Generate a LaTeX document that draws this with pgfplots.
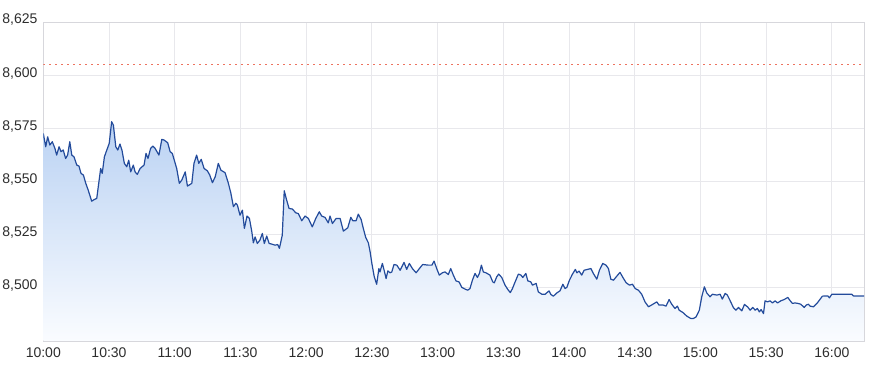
\documentclass[border=0pt]{standalone}
\usepackage{pgfplots}
\pgfplotsset{compat=1.18}
\usepackage{fontspec}
\setmainfont{Liberation Sans}
\definecolor{linecol}{RGB}{35,75,155}
\definecolor{filltop}{RGB}{186,210,243}
\definecolor{fillbot}{RGB}{250,252,255}
\definecolor{gridcol}{RGB}{232,232,236}
\definecolor{framecol}{RGB}{215,215,220}
\definecolor{txtcol}{RGB}{45,45,45}
\definecolor{refcol}{RGB}{232,80,55}
\begin{document}
\fontsize{14pt}{16pt}\selectfont
\begin{tikzpicture}
\useasboundingbox (-43.3pt,-30pt) rectangle (826.7pt,341pt);
\begin{axis}[
  scale only axis,
  width=821.4pt, height=318.7pt,
  xmin=0, xmax=375, ymin=8475, ymax=8625,
  xtick={0,30,60,90,120,150,180,210,240,270,300,330,360},
  xticklabels={10:00,10:30,11:00,11:30,12:00,12:30,13:00,13:30,14:00,14:30,15:00,15:30,16:00},
  ytick={8500,8525,8550,8575,8600,8625},
  yticklabels={{8,500},{8,525},{8,550},{8,575},{8,600},{8,625}},
  major tick length=0pt,
  grid=major,
  major grid style={gridcol, line width=0.8pt},
  axis line style={framecol, line width=0.8pt},
  tick label style={font=\fontsize{14pt}{16pt}\selectfont, text=txtcol, inner sep=0pt},
  yticklabel style={anchor=east, xshift=-5.6pt, yshift=2.3pt},
  xticklabel style={anchor=north, yshift=-7pt},
  clip=true,
  axis on top=false,
]
\addplot[draw=none, top color=filltop, bottom color=fillbot] coordinates {
(0,8572.7) (1.1,8566.4) (2.0,8571.1) (3.0,8567.2) (4.1,8568.8) (5.3,8565.7) (6.1,8562.5) (7.2,8566.4) (8.1,8564.1) (9.1,8564.9)
(10.2,8560.9) (11.1,8562.5) (12.1,8568.8) (13.0,8562.5) (14.0,8561.7) (15.3,8557.8) (16.3,8557.3) (17.2,8553.9) (18.3,8553.1) (19.4,8549.2)
(20.5,8546.0) (22.1,8540.8) (23.3,8541.6) (24.4,8542.1) (25.3,8549.2) (26.2,8556.2) (26.9,8553.9) (27.9,8561.7) (29.0,8564.9) (30.1,8568.0)
(31.2,8578.2) (32.0,8576.6) (33.1,8566.4) (34.0,8564.9) (35.0,8567.7) (35.9,8564.9) (37.0,8558.6) (38.1,8557.0) (39.0,8560.1) (39.9,8554.6)
(41.1,8557.8) (41.9,8554.6) (42.9,8553.4) (44.2,8556.2) (46.0,8557.8) (46.9,8563.3) (47.8,8560.9) (49.0,8565.7) (50.0,8566.7) (51.0,8565.7)
(52.8,8562.5) (54.1,8569.9) (55.1,8569.6) (56.8,8568.3) (57.9,8564.1) (58.9,8563.3) (59.8,8560.1) (60.9,8556.2) (62.1,8549.2) (63.2,8550.7)
(64.8,8554.6) (65.8,8547.9) (67.8,8549.2) (68.8,8558.6) (70.0,8562.5) (71.0,8558.6) (72.1,8560.5) (73.4,8556.2) (74.9,8555.1) (76.0,8553.1)
(77.2,8549.5) (78.5,8552.3) (79.9,8558.6) (81.1,8555.4) (83.0,8554.2) (84.5,8549.2) (85.6,8544.7) (86.8,8538.2) (87.9,8539.8) (88.6,8539.0)
(89.8,8534.2) (90.9,8536.6) (91.8,8528.0) (93.0,8533.8) (94.1,8532.7) (95.2,8526.4) (95.9,8521.2) (96.7,8524.0) (97.7,8520.9) (98.9,8522.5)
(100.0,8525.6) (100.9,8520.9) (102.0,8524.4) (103.1,8520.9) (104.3,8520.6) (105.8,8520.1) (107.0,8520.4) (107.8,8518.6) (109.1,8524.8) (110.0,8545.7)
(111.1,8541.3) (112.2,8537.4) (113.7,8537.1) (115.3,8535.3) (116.4,8535.0) (118.0,8531.6) (119.5,8533.8) (121.0,8532.7) (122.8,8528.7) (124.4,8532.7)
(126.0,8535.8) (127.1,8533.8) (128.6,8533.2) (130.1,8530.6) (130.9,8533.8) (132.0,8530.3) (133.7,8532.7) (135.5,8532.7) (137.0,8526.7) (139.0,8528.3)
(140.4,8533.2) (141.3,8531.6) (142.8,8531.6) (143.8,8534.7) (145.1,8532.2) (146.1,8528.0) (147.2,8523.7) (148.4,8521.2) (149.2,8517.0) (150.0,8511.5)
(151.1,8505.2) (152.2,8501.7) (153.2,8509.1) (153.7,8507.5) (154.8,8511.5) (155.6,8508.3) (156.5,8504.4) (157.3,8508.0) (158.3,8507.1) (159.1,8507.5)
(160.1,8511.0) (161.4,8510.7) (162.9,8508.3) (164.7,8512.0) (165.9,8508.7) (167.1,8511.5) (168.5,8509.1) (170.2,8507.1) (171.7,8509.1) (173.2,8511.0)
(175.8,8510.7) (177.4,8510.7) (178.4,8512.6) (179.6,8509.1) (180.8,8506.0) (182.2,8507.1) (183.4,8507.5) (184.9,8506.3) (186.0,8509.1) (187.2,8506.0)
(188.4,8503.3) (189.8,8502.8) (191.1,8500.2) (192.6,8499.4) (193.8,8498.9) (194.8,8499.7) (195.9,8503.6) (197.1,8506.8) (198.2,8504.9) (199.1,8506.8)
(200.0,8510.7) (200.9,8507.5) (202.1,8507.1) (203.9,8506.0) (205.2,8502.8) (205.9,8502.4) (207.0,8505.2) (207.9,8506.5) (209.3,8504.9) (210.8,8501.3)
(212.1,8499.2) (213.2,8497.8) (214.2,8499.7) (215.4,8502.8) (216.9,8506.5) (218.1,8506.0) (218.9,8504.9) (220.3,8506.8) (221.2,8503.3) (222.6,8502.8)
(223.3,8501.3) (225.0,8502.1) (226.0,8498.1) (227.6,8497.0) (229.1,8497.0) (230.9,8498.6) (231.7,8496.9) (232.9,8496.1) (234.4,8497.6) (235.9,8498.6)
(237.2,8501.7) (238.2,8499.7) (239.0,8500.2) (240.2,8503.6) (241.6,8506.5) (242.9,8508.7) (243.6,8507.1) (244.6,8507.9) (245.8,8506.0) (246.9,8508.3)
(248.9,8508.8) (250.0,8509.1) (251.1,8506.8) (252.7,8504.1) (253.9,8508.3) (255.4,8511.5) (256.9,8510.7) (258.0,8509.1) (259.1,8504.1) (260.3,8503.6)
(261.8,8505.5) (263.3,8507.3) (264.6,8504.9) (266.1,8502.4) (267.6,8501.3) (269.0,8501.7) (270.2,8499.7) (271.7,8498.9) (273.2,8497.0) (274.7,8493.4)
(276.3,8491.1) (278.3,8492.3) (280.1,8493.4) (281.1,8491.9) (283.1,8491.9) (284.3,8491.4) (285.7,8494.5) (286.9,8492.3) (288.4,8490.3) (289.5,8491.4)
(290.3,8489.5) (292.0,8488.4) (293.8,8486.7) (295.6,8485.6) (296.8,8485.6) (298.0,8486.3) (299.5,8489.5) (300.6,8495.8) (301.8,8500.5) (302.9,8497.6)
(304.4,8495.8) (305.5,8497.0) (307.5,8496.6) (309.0,8497.0) (310.0,8494.7) (311.3,8497.4) (312.3,8496.6) (313.6,8493.9) (315.1,8490.6) (316.2,8489.5)
(317.4,8490.8) (318.9,8489.2) (320.1,8492.2) (321.5,8491.1) (322.7,8489.5) (323.9,8490.8) (325.0,8489.5) (326.0,8490.3) (326.9,8488.7) (327.7,8489.8)
(328.8,8487.9) (329.5,8493.9) (330.6,8493.4) (331.8,8493.9) (332.9,8492.9) (334.1,8493.9) (335.2,8492.9) (336.7,8493.9) (338.2,8494.5) (339.9,8495.5)
(341.0,8493.9) (342.0,8492.7) (343.2,8492.9) (344.5,8492.7) (345.8,8492.3) (347.4,8490.8) (348.3,8491.9) (349.3,8492.3) (350.1,8491.4) (351.6,8491.1)
(353.2,8492.7) (354.3,8494.2) (355.7,8496.1) (357.3,8496.2) (358.2,8496.2) (358.9,8495.3) (360.0,8497.0) (362.3,8497.0) (369.1,8497.0) (369.9,8496.2)
(374.7,8496.2)
} \closedcycle;
\addplot[linecol, line width=1.2pt, line join=round] coordinates {
(0,8572.7) (1.1,8566.4) (2.0,8571.1) (3.0,8567.2) (4.1,8568.8) (5.3,8565.7) (6.1,8562.5) (7.2,8566.4) (8.1,8564.1) (9.1,8564.9)
(10.2,8560.9) (11.1,8562.5) (12.1,8568.8) (13.0,8562.5) (14.0,8561.7) (15.3,8557.8) (16.3,8557.3) (17.2,8553.9) (18.3,8553.1) (19.4,8549.2)
(20.5,8546.0) (22.1,8540.8) (23.3,8541.6) (24.4,8542.1) (25.3,8549.2) (26.2,8556.2) (26.9,8553.9) (27.9,8561.7) (29.0,8564.9) (30.1,8568.0)
(31.2,8578.2) (32.0,8576.6) (33.1,8566.4) (34.0,8564.9) (35.0,8567.7) (35.9,8564.9) (37.0,8558.6) (38.1,8557.0) (39.0,8560.1) (39.9,8554.6)
(41.1,8557.8) (41.9,8554.6) (42.9,8553.4) (44.2,8556.2) (46.0,8557.8) (46.9,8563.3) (47.8,8560.9) (49.0,8565.7) (50.0,8566.7) (51.0,8565.7)
(52.8,8562.5) (54.1,8569.9) (55.1,8569.6) (56.8,8568.3) (57.9,8564.1) (58.9,8563.3) (59.8,8560.1) (60.9,8556.2) (62.1,8549.2) (63.2,8550.7)
(64.8,8554.6) (65.8,8547.9) (67.8,8549.2) (68.8,8558.6) (70.0,8562.5) (71.0,8558.6) (72.1,8560.5) (73.4,8556.2) (74.9,8555.1) (76.0,8553.1)
(77.2,8549.5) (78.5,8552.3) (79.9,8558.6) (81.1,8555.4) (83.0,8554.2) (84.5,8549.2) (85.6,8544.7) (86.8,8538.2) (87.9,8539.8) (88.6,8539.0)
(89.8,8534.2) (90.9,8536.6) (91.8,8528.0) (93.0,8533.8) (94.1,8532.7) (95.2,8526.4) (95.9,8521.2) (96.7,8524.0) (97.7,8520.9) (98.9,8522.5)
(100.0,8525.6) (100.9,8520.9) (102.0,8524.4) (103.1,8520.9) (104.3,8520.6) (105.8,8520.1) (107.0,8520.4) (107.8,8518.6) (109.1,8524.8) (110.0,8545.7)
(111.1,8541.3) (112.2,8537.4) (113.7,8537.1) (115.3,8535.3) (116.4,8535.0) (118.0,8531.6) (119.5,8533.8) (121.0,8532.7) (122.8,8528.7) (124.4,8532.7)
(126.0,8535.8) (127.1,8533.8) (128.6,8533.2) (130.1,8530.6) (130.9,8533.8) (132.0,8530.3) (133.7,8532.7) (135.5,8532.7) (137.0,8526.7) (139.0,8528.3)
(140.4,8533.2) (141.3,8531.6) (142.8,8531.6) (143.8,8534.7) (145.1,8532.2) (146.1,8528.0) (147.2,8523.7) (148.4,8521.2) (149.2,8517.0) (150.0,8511.5)
(151.1,8505.2) (152.2,8501.7) (153.2,8509.1) (153.7,8507.5) (154.8,8511.5) (155.6,8508.3) (156.5,8504.4) (157.3,8508.0) (158.3,8507.1) (159.1,8507.5)
(160.1,8511.0) (161.4,8510.7) (162.9,8508.3) (164.7,8512.0) (165.9,8508.7) (167.1,8511.5) (168.5,8509.1) (170.2,8507.1) (171.7,8509.1) (173.2,8511.0)
(175.8,8510.7) (177.4,8510.7) (178.4,8512.6) (179.6,8509.1) (180.8,8506.0) (182.2,8507.1) (183.4,8507.5) (184.9,8506.3) (186.0,8509.1) (187.2,8506.0)
(188.4,8503.3) (189.8,8502.8) (191.1,8500.2) (192.6,8499.4) (193.8,8498.9) (194.8,8499.7) (195.9,8503.6) (197.1,8506.8) (198.2,8504.9) (199.1,8506.8)
(200.0,8510.7) (200.9,8507.5) (202.1,8507.1) (203.9,8506.0) (205.2,8502.8) (205.9,8502.4) (207.0,8505.2) (207.9,8506.5) (209.3,8504.9) (210.8,8501.3)
(212.1,8499.2) (213.2,8497.8) (214.2,8499.7) (215.4,8502.8) (216.9,8506.5) (218.1,8506.0) (218.9,8504.9) (220.3,8506.8) (221.2,8503.3) (222.6,8502.8)
(223.3,8501.3) (225.0,8502.1) (226.0,8498.1) (227.6,8497.0) (229.1,8497.0) (230.9,8498.6) (231.7,8496.9) (232.9,8496.1) (234.4,8497.6) (235.9,8498.6)
(237.2,8501.7) (238.2,8499.7) (239.0,8500.2) (240.2,8503.6) (241.6,8506.5) (242.9,8508.7) (243.6,8507.1) (244.6,8507.9) (245.8,8506.0) (246.9,8508.3)
(248.9,8508.8) (250.0,8509.1) (251.1,8506.8) (252.7,8504.1) (253.9,8508.3) (255.4,8511.5) (256.9,8510.7) (258.0,8509.1) (259.1,8504.1) (260.3,8503.6)
(261.8,8505.5) (263.3,8507.3) (264.6,8504.9) (266.1,8502.4) (267.6,8501.3) (269.0,8501.7) (270.2,8499.7) (271.7,8498.9) (273.2,8497.0) (274.7,8493.4)
(276.3,8491.1) (278.3,8492.3) (280.1,8493.4) (281.1,8491.9) (283.1,8491.9) (284.3,8491.4) (285.7,8494.5) (286.9,8492.3) (288.4,8490.3) (289.5,8491.4)
(290.3,8489.5) (292.0,8488.4) (293.8,8486.7) (295.6,8485.6) (296.8,8485.6) (298.0,8486.3) (299.5,8489.5) (300.6,8495.8) (301.8,8500.5) (302.9,8497.6)
(304.4,8495.8) (305.5,8497.0) (307.5,8496.6) (309.0,8497.0) (310.0,8494.7) (311.3,8497.4) (312.3,8496.6) (313.6,8493.9) (315.1,8490.6) (316.2,8489.5)
(317.4,8490.8) (318.9,8489.2) (320.1,8492.2) (321.5,8491.1) (322.7,8489.5) (323.9,8490.8) (325.0,8489.5) (326.0,8490.3) (326.9,8488.7) (327.7,8489.8)
(328.8,8487.9) (329.5,8493.9) (330.6,8493.4) (331.8,8493.9) (332.9,8492.9) (334.1,8493.9) (335.2,8492.9) (336.7,8493.9) (338.2,8494.5) (339.9,8495.5)
(341.0,8493.9) (342.0,8492.7) (343.2,8492.9) (344.5,8492.7) (345.8,8492.3) (347.4,8490.8) (348.3,8491.9) (349.3,8492.3) (350.1,8491.4) (351.6,8491.1)
(353.2,8492.7) (354.3,8494.2) (355.7,8496.1) (357.3,8496.2) (358.2,8496.2) (358.9,8495.3) (360.0,8497.0) (362.3,8497.0) (369.1,8497.0) (369.9,8496.2)
(374.7,8496.2)
};
\addplot[refcol, line width=0.9pt, dash pattern=on 1.6pt off 4.4pt, opacity=0.8] coordinates {(0,8605) (375,8605)};
\end{axis}
\end{tikzpicture}
\end{document}
